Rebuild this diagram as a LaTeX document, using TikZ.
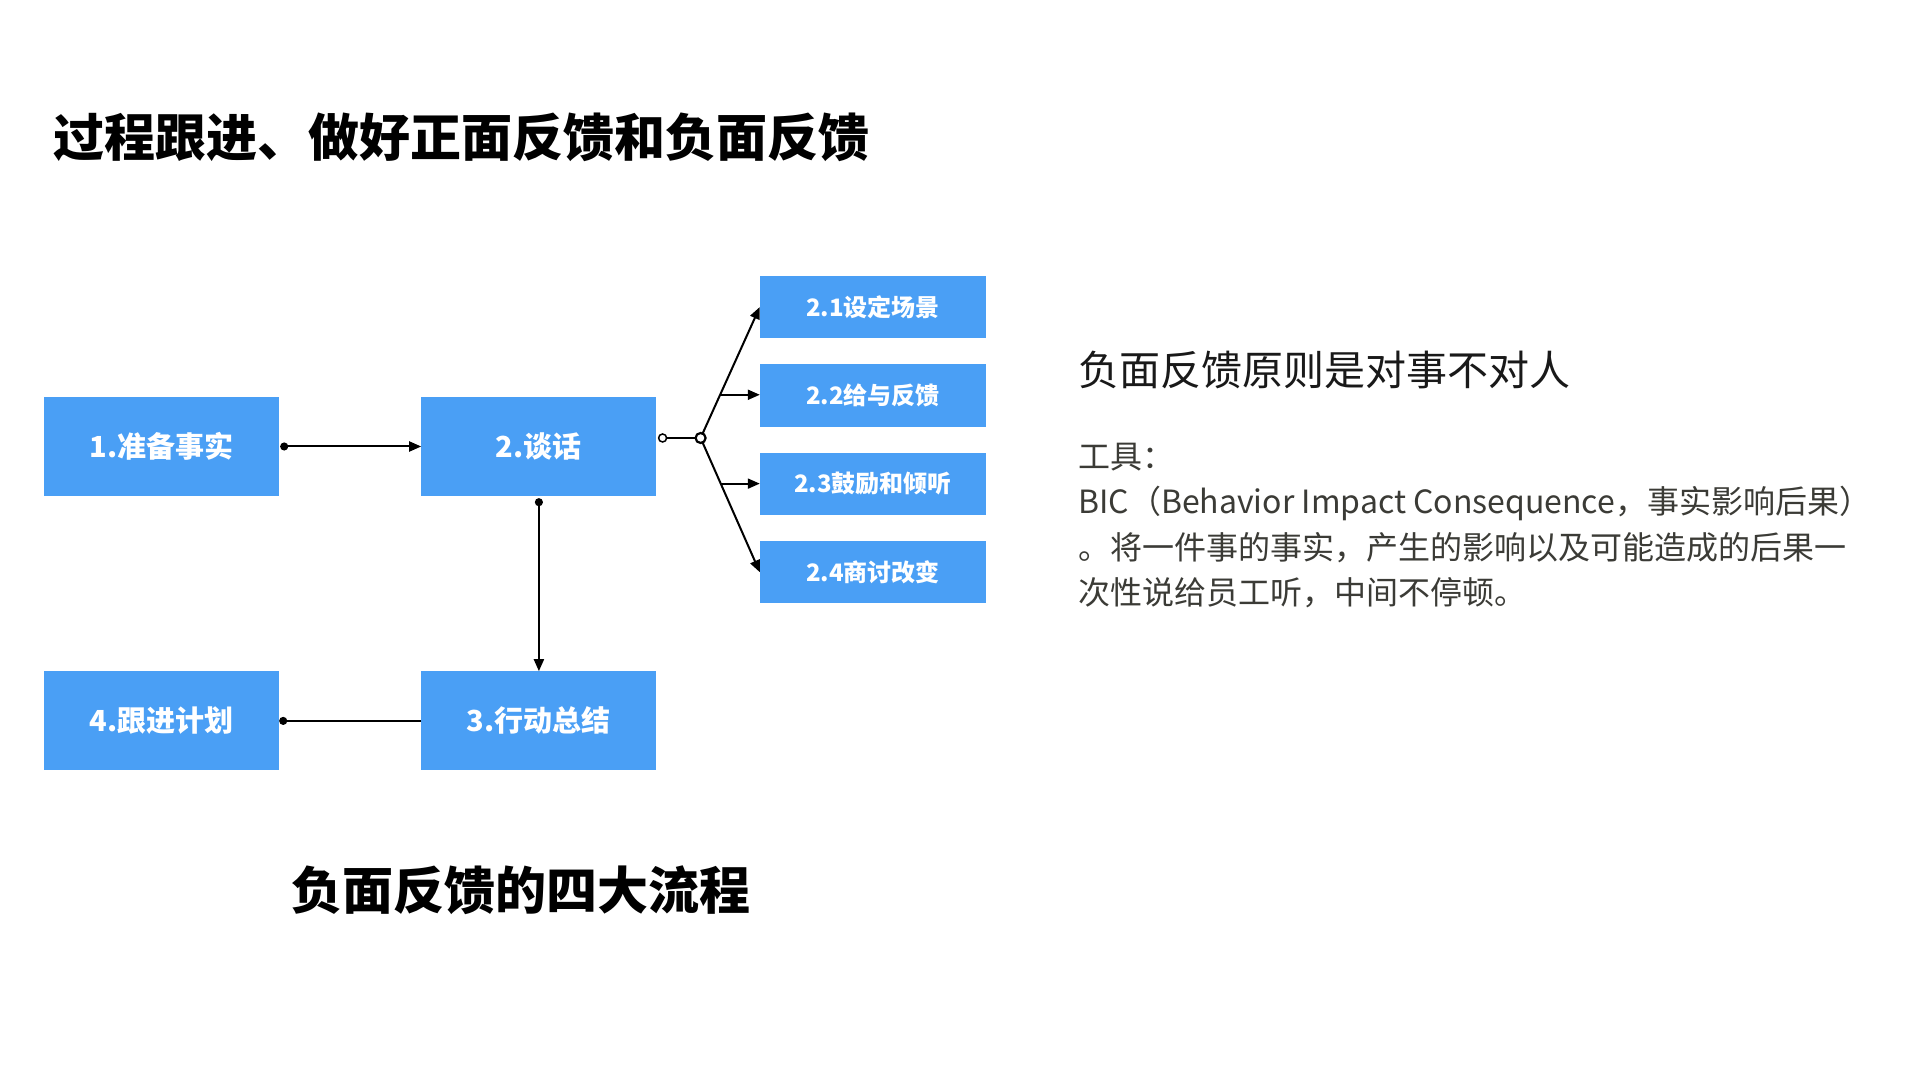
\documentclass[tikz,border=0pt]{standalone}
\usepackage{fontspec}
\setmainfont{Noto Sans CJK SC}
\usepackage{xcolor}
\usepackage{tikz}
\usetikzlibrary{arrows.meta,positioning,calc}
\definecolor{stepblue}{HTML}{4A9FF5}
\definecolor{notegray}{HTML}{3B3B36}

\begin{document}
\begin{tikzpicture}[
  x=1pt, y=1pt,
  node distance=175pt and 142pt,
  box/.style={fill=stepblue, minimum width=235pt, minimum height=99pt, inner sep=0pt, text=white, font=\fontsize{29}{35}\selectfont\bfseries},
  subbox/.style={fill=stepblue, minimum width=226pt, minimum height=62.5pt, inner sep=0pt, text=white, font=\fontsize{24}{29}\selectfont\bfseries},
  heading/.style={inner sep=0pt, font=\fontsize{51}{61}\selectfont\bfseries},
  tap/.style={circle, draw, fill=white, line width=1.5pt, minimum size=8pt, inner sep=0pt},
  link/.style={line width=2pt},
  arrow/.style={-{Triangle[length=12pt,width=10pt]}, line width=2pt},
  dotarrow/.style={{Circle[length=8pt]}-{Triangle[length=12pt,width=10pt]}, line width=2pt},
]
  \fill[white] (0,0) rectangle (1920,1080);

  \node[heading, anchor=west] (title) at (53,943) {过程跟进、做好正面反馈和负面反馈};

  \node[box] (prep) at (161.5,633.5) {1.准备事实};
  \node[box, right=of prep] (talk) {2.谈话};
  \node[box, below=of talk] (sum) {3.行动总结};
  \node[box, left=of sum] (plan) {4.跟进计划};

  \node[subbox] (scene) at (873,773) {2.1设定场景};
  \node[subbox, below=25.5pt of scene] (give) {2.2给与反馈};
  \node[subbox, below=25.5pt of give] (listen) {2.3鼓励和倾听};
  \node[subbox, below=25.5pt of listen] (change) {2.4商讨改变};

  \node[heading] (caption) at (521,190) {负面反馈的四大流程};

  \node[anchor=west, inner sep=0pt, text=black!90, font=\fontsize{41}{49}\selectfont] (rule) at (1078,710) {负面反馈原则是对事不对人};
  \node[anchor=north west, inner sep=0pt, align=left, text=notegray, font=\fontsize{32}{45.3}\selectfont] (tool) at (1078,637)
    {工具：\\BIC（Behavior Impact Consequence，事实影响后果）\\。将一件事的事实，产生的影响以及可能造成的后果一\\次性说给员工听，中间不停顿。};

  \draw[dotarrow] ([xshift=1pt]prep.east) -- (talk.west);
  \draw[dotarrow] ([yshift=-2pt]talk.south) -- (sum.north);
  \draw[link, -{Circle[length=8pt]}] (sum.west) -- (plan.east);

  \coordinate (out) at ([xshift=6pt,yshift=8.5pt]talk.east);
  \coordinate (hub) at ([xshift=38pt]out);
  \draw[link] (out) -- (hub);
  \draw[arrow] (hub) -- (scene.west);
  \draw[arrow] (hub) -- (change.west);
  \coordinate (fork1) at ($(hub)!0.33!(scene.west)$);
  \coordinate (fork2) at ($(hub)!0.34!(change.west)$);
  \draw[arrow] (fork1) -- (fork1 -| give.west);
  \draw[arrow] (fork2) -- (fork2 -| listen.west);
  \node[tap] at (out) {};
  \node[tap, minimum size=10pt, line width=2.2pt] at (hub) {};
\end{tikzpicture}
\end{document}
